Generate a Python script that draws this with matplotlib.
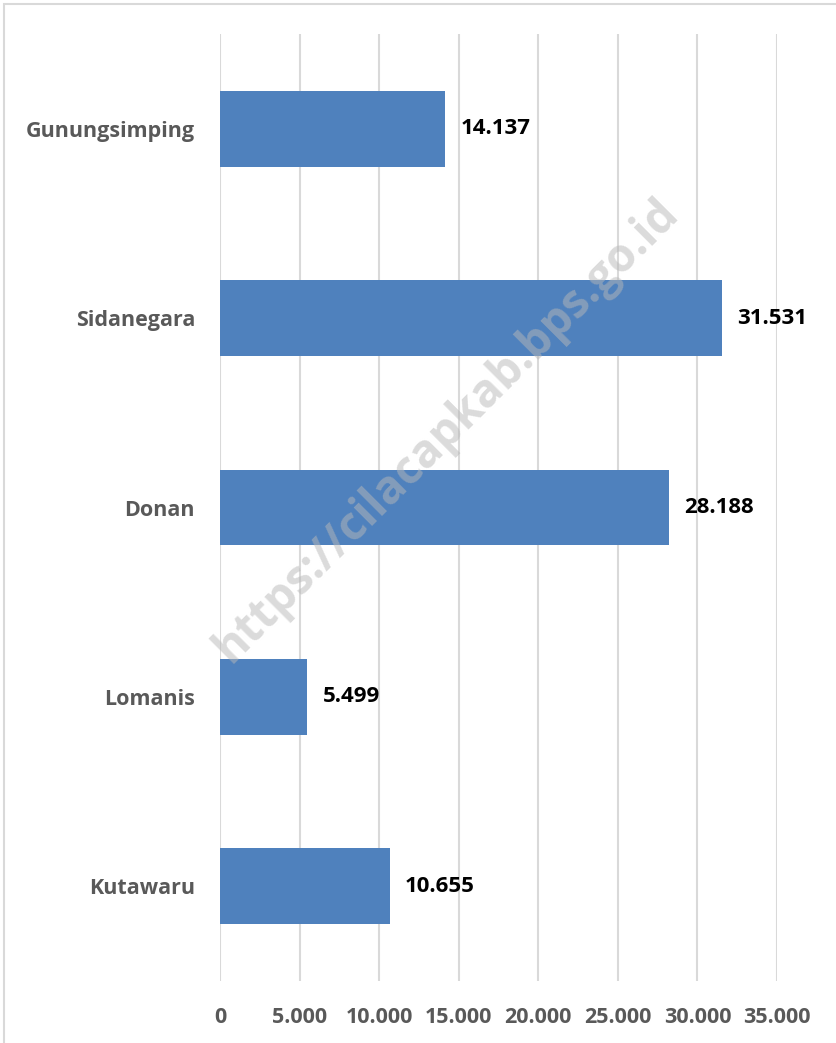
import matplotlib
matplotlib.use("Agg")
import matplotlib.pyplot as plt
from matplotlib.patches import Rectangle

# ---- data ----
categories = ["Gunungsimping", "Sidanegara", "Donan", "Lomanis", "Kutawaru"]
values = [14137, 31531, 28188, 5499, 10655]
value_labels = ["14.137", "31.531", "28.188", "5.499", "10.655"]
x_ticks = [0, 5000, 10000, 15000, 20000, 25000, 30000, 35000]
x_tick_labels = ["0", "5.000", "10.000", "15.000", "20.000", "25.000", "30.000", "35.000"]

FONT = ["Open Sans", "DejaVu Sans"]
BAR_COLOR = "#4f81bd"
GRID_COLOR = "#d9d9d9"

fig = plt.figure(figsize=(8.37, 10.43), dpi=100)
ax = fig.add_axes([0.2628, 0.0594, 0.6655, 0.908])

ypos = list(range(len(categories)))
ax.barh(ypos, values, height=0.4, color=BAR_COLOR, zorder=3)

ax.set_xlim(0, 35000)
ax.set_ylim(len(categories) - 0.5, -0.5)

ax.set_xticks(x_ticks)
ax.set_xticklabels(x_tick_labels)
ax.set_yticks(ypos)
ax.set_yticklabels(categories)

for lab in ax.get_xticklabels() + ax.get_yticklabels():
    lab.set_fontfamily(FONT)
    lab.set_fontweight("bold")
    lab.set_fontsize(15.5)
    lab.set_color("#595959")

ax.tick_params(axis="both", length=0)
ax.tick_params(axis="x", pad=19)
ax.tick_params(axis="y", pad=18)

ax.grid(axis="x", color=GRID_COLOR, linewidth=1.5, zorder=0)
for s in ax.spines.values():
    s.set_visible(False)

# ---- value labels ----
for y, v, t in zip(ypos, values, value_labels):
    ax.annotate(t, (v, y), xytext=(11, 0), textcoords="offset points",
                ha="left", va="center", fontsize=16, fontweight="bold",
                family=FONT, color="black", zorder=4)

# ---- outer frame (top and left only visible) ----
fig.patches.append(Rectangle((0.005, -0.1), 1.2, 1.096, transform=fig.transFigure,
                             fill=False, edgecolor="#d9d9d9", linewidth=1.5))

# ---- watermark ----
fig.text(0.533, 0.587, "https://cilacapkab.bps.go.id", rotation=45,
         ha="center", va="center", fontsize=33, fontweight="bold",
         family=FONT, color="#b8b8b8", alpha=0.5, zorder=10)

fig.savefig("out.png", dpi=100)
